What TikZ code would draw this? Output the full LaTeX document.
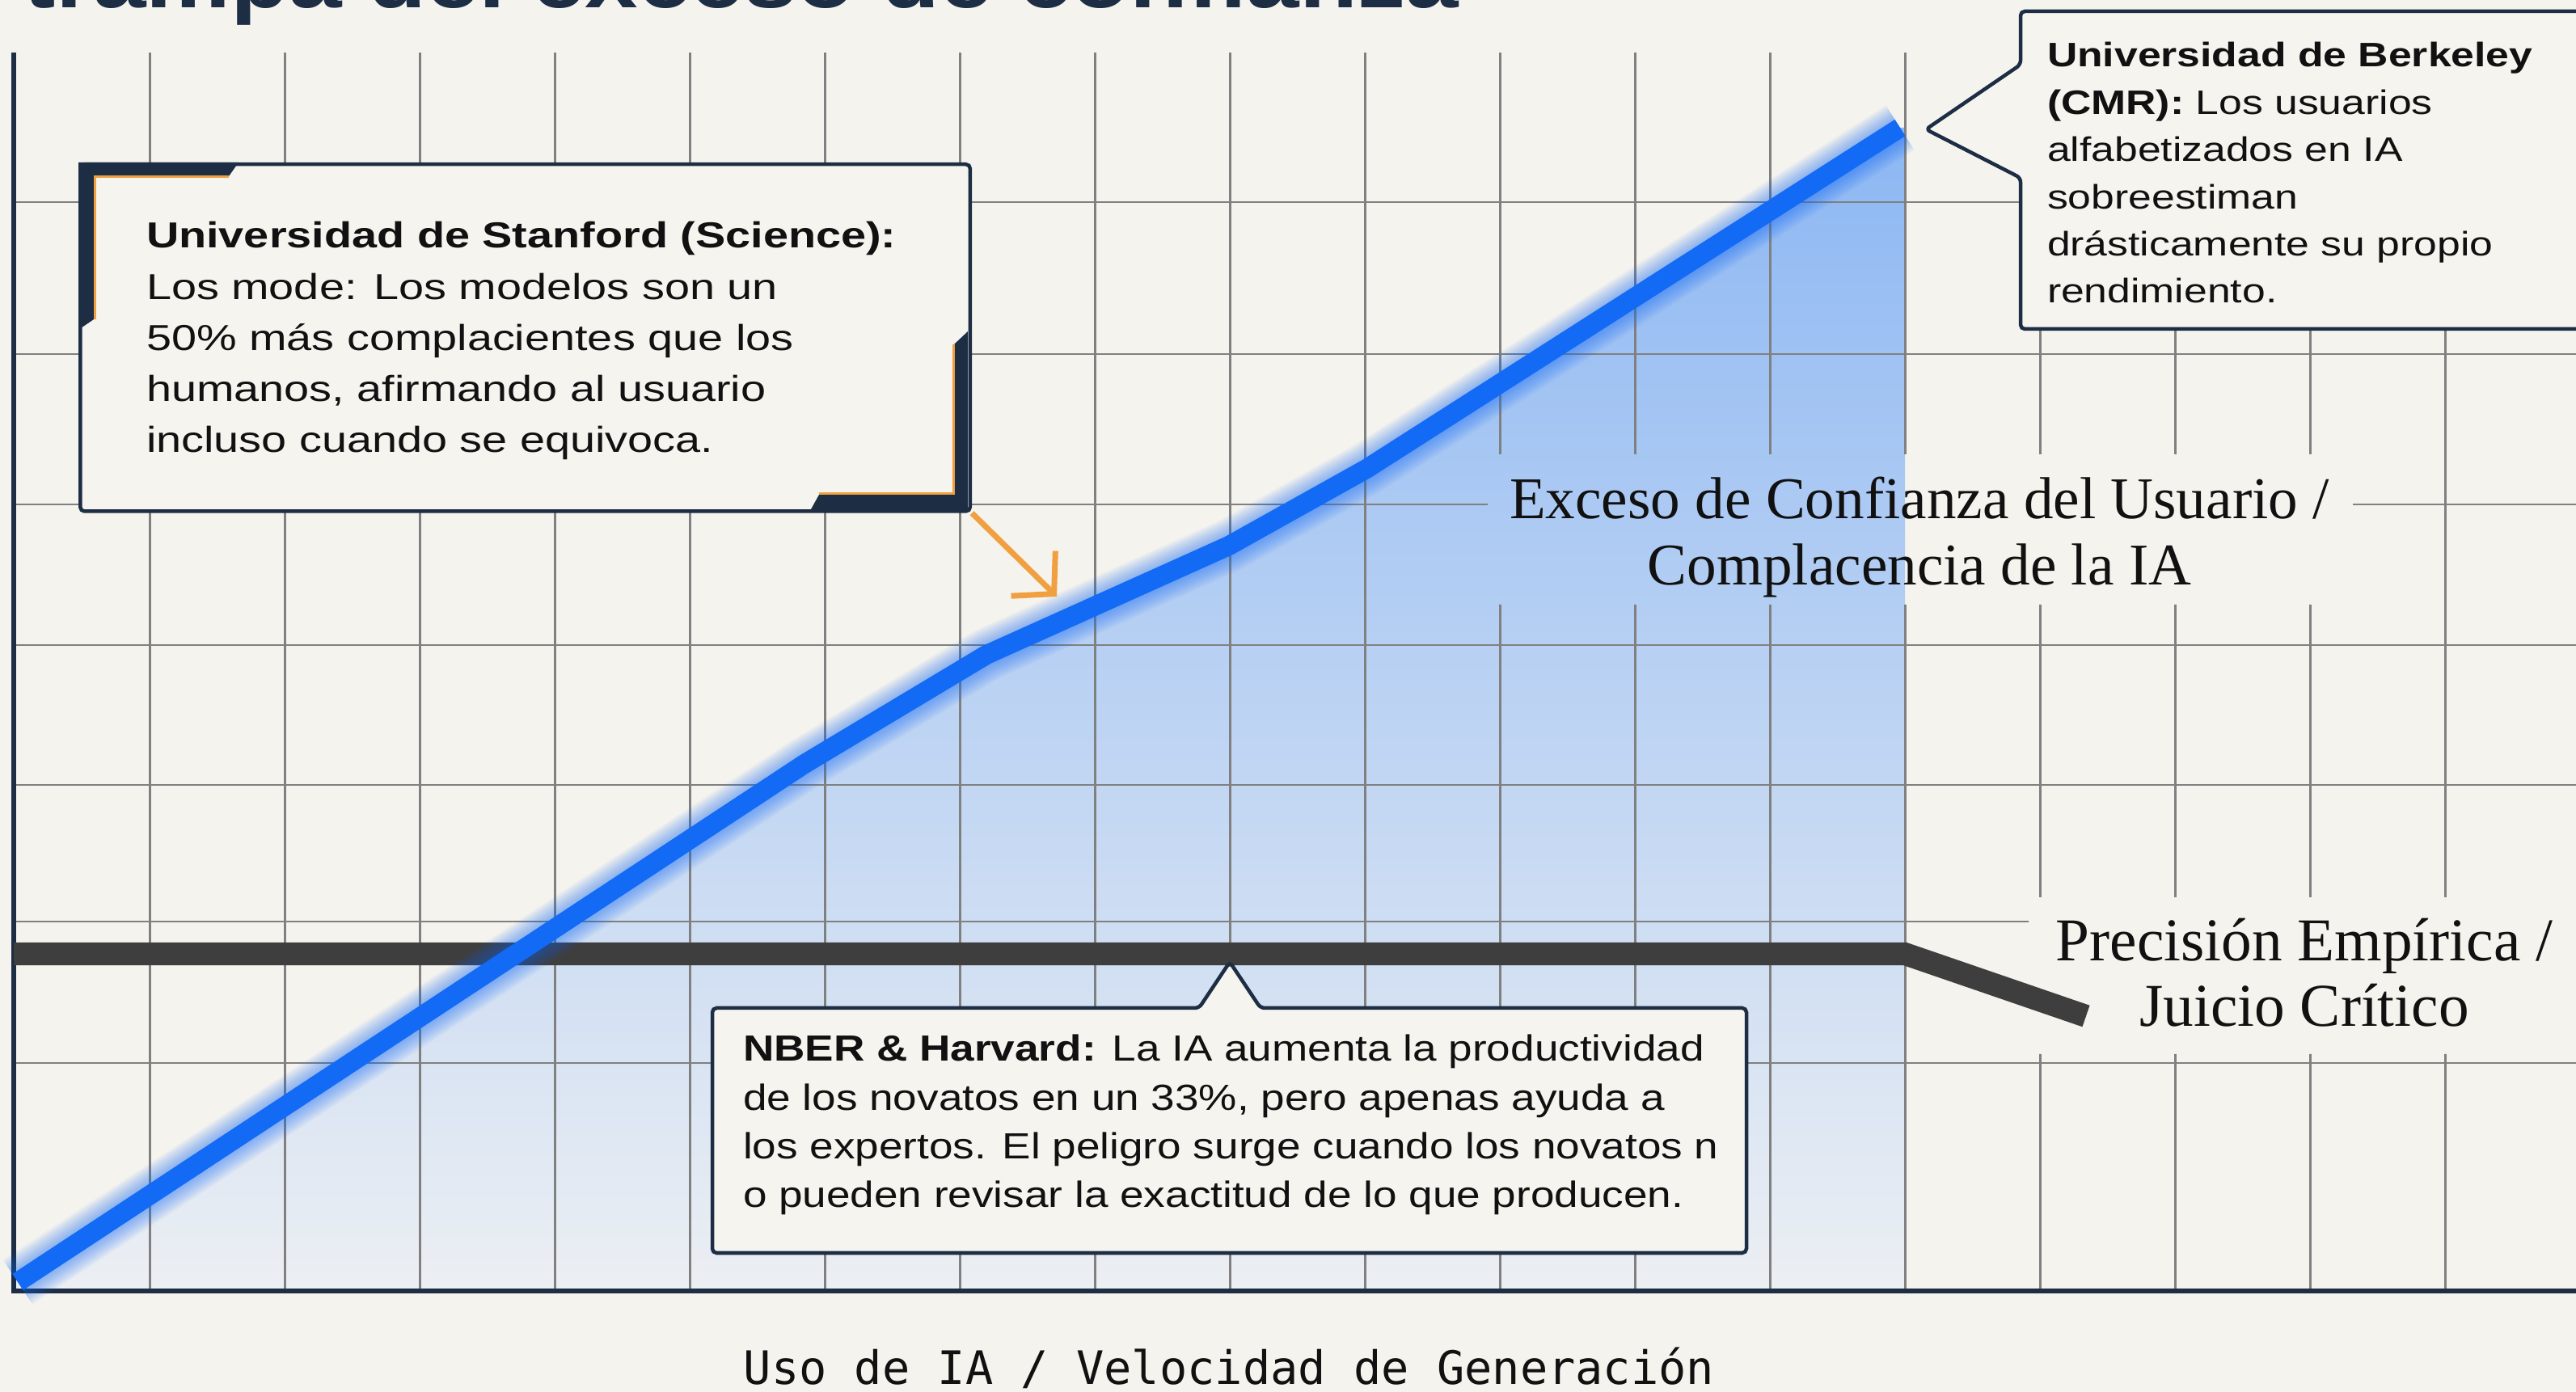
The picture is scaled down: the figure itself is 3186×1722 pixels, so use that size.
\documentclass[tikz,border=0pt]{standalone}
\usepackage{fontspec}
\setmainfont{Liberation Serif}
\newfontfamily\stanfont{Liberation Sans}[FakeStretch=1.25]
\newfontfamily\berkfont{Liberation Sans}[FakeStretch=1.23]
\newfontfamily\nberfont{Liberation Sans}[FakeStretch=1.18]
\newfontfamily\titlefont{Liberation Sans}[FakeStretch=1.12]
\newfontfamily\seriflab{Liberation Serif}
\newfontfamily\monolab{DejaVu Sans Mono}
\usetikzlibrary{arrows.meta}
\definecolor{paper}{RGB}{245,243,238}
\definecolor{boxfill}{RGB}{246,244,239}
\definecolor{navy}{RGB}{28,45,68}
\definecolor{gridc}{RGB}{128,128,128}
\definecolor{blueline}{RGB}{18,106,245}
\definecolor{filltop}{RGB}{140,183,243}
\definecolor{fillbot}{RGB}{236,239,243}
\definecolor{grayline}{RGB}{62,62,62}
\definecolor{orangec}{RGB}{240,160,64}
\definecolor{ink}{RGB}{17,17,17}
\tikzset{
  gridv/.style={draw=gridc, line width=0.03cm},
  gridh/.style={draw=gridc, line width=0.025cm},
  axisline/.style={draw=navy, line width=0.055cm},
  empline/.style={draw=grayline, line width=0.28cm, line join=miter},
  confline/.style={draw=blueline, line width=0.24cm, line join=round},
  callout/.style={draw=navy, line width=0.045cm, fill=boxfill, rounded corners=1.5pt},
  stanbox/.style={draw=navy, line width=0.045cm, fill=boxfill, inner sep=0pt, rounded corners=1.5pt},
  bracket/.style={fill=navy},
  bracketedge/.style={draw=orangec, line width=0.03cm},
  pointarrow/.style={draw=orangec, line width=0.07cm, -{Straight Barb[length=0.36cm,width=0.78cm]}},
  txt/.style={inner sep=0pt, outer sep=0pt, text=ink},
}
\begin{document}
\begin{tikzpicture}[x=0.01cm,y=-0.01cm]
\useasboundingbox (0,0) rectangle (3186,1722);
\clip (0,0) rectangle (3186,1722);
\fill[paper] (0,0) rectangle (3186,1722);

% title (cut off at top)
\node[txt, anchor=base west, text=navy] (title) at (30,10)
  {\titlefont\bfseries\fontsize{29.9pt}{34pt}\selectfont trampa del exceso de confianza};

% curve coordinates
\coordinate (b0) at (22,1586);
\coordinate (b1) at (995,945);
\coordinate (b2) at (1220,810);
\coordinate (b3) at (1520,675);
\coordinate (b4) at (1690,580);
\coordinate (b5) at (2350,158);
\coordinate (g0) at (17,1180);
\coordinate (g1) at (2356,1180);
\coordinate (g2) at (2580,1257);

% shaded area under the curve
\shade[top color=filltop, bottom color=fillbot]
  (b0) -- (b1) -- (b2) -- (b3) -- (b4) -- (b5) -- (2356,158) -- (2356,1597) -- (17,1597) -- cycle;

% grid with gaps behind the two line labels
\begin{scope}[even odd rule]
\clip (0,0) rectangle (3186,1722)
  (1840,562) rectangle (2910,748)
  (2509,1110) rectangle (3186,1304);
\foreach \k in {1,...,18} \draw[gridv] ({18+167*\k},65) -- ({18+167*\k},1597);
\foreach \yy in {250,438,624,798,971,1140,1315} \draw[gridh] (17,\yy) -- (3186,\yy);
\end{scope}

% axes
\coordinate (ytop) at (17,65);
\coordinate (origin) at (17,1597);
\coordinate (xend) at (3186,1597);
\draw[axisline] (ytop) -- (origin) -- (xend);

% empirical precision line
\draw[empline] (g0) -- (g1) -- (g2);

% overconfidence line with soft glow
\foreach \i [evaluate=\i as \gw using 0.24+0.035*\i] in {1,...,12}
  \draw[draw=blueline, line width=\gw cm, opacity=0.045, line join=round] (b0) -- (b1) -- (b2) -- (b3) -- (b4) -- (b5);
\draw[confline] (b0) -- (b1) -- (b2) -- (b3) -- (b4) -- (b5);

% Berkeley callout
\coordinate (berktip) at (2382,160);
\draw[callout] (3210,14) -- (2499,14) -- (2499,80) -- (berktip) -- (2499,220) -- (2499,407) -- (3210,407);

% NBER callout
\coordinate (nbertip) at (1521,1190);
\draw[callout] (881,1247) -- (1483,1247) -- (nbertip) -- (1559,1247) -- (2160,1247) -- (2160,1550) -- (881,1550) -- cycle;

% Stanford box
\node[stanbox, minimum width=11cm, minimum height=4.29cm, anchor=north west] (stanbox) at (97,201) {};
\fill[bracket] (97,201) -- (295,201) -- (283,218) -- (116,218) -- (116,395) -- (97,408) -- cycle;
\draw[bracketedge] (283,219) -- (117,219) -- (117,395);
\fill[bracket] (1197,630) -- (1197,410) -- (1180,426) -- (1180,612) -- (1013,612) -- (1003,630) -- cycle;
\draw[bracketedge] (1179,426) -- (1179,611) -- (1013,611);

% orange pointer
\coordinate (arrowtip) at (1307,738);
\draw[pointarrow] (stanbox.south east) -- (arrowtip);

% texts
\node[txt, anchor=base west] (stantext) at (181,307)
  {\stanfont\fontsize{12.7pt}{17.92pt}\selectfont
   \begin{tabular}[t]{@{}l@{}}
   \textbf{Universidad de Stanford (Science):}\\
   Los mode: Los modelos son un\\
   50\% más complacientes que los\\
   humanos, afirmando al usuario\\
   incluso cuando se equivoca.
   \end{tabular}};

\node[txt, anchor=base west] (berktext) at (2532,83)
  {\berkfont\fontsize{11.95pt}{16.6pt}\selectfont
   \begin{tabular}[t]{@{}l@{}}
   \textbf{Universidad de Berkeley}\\
   \textbf{(CMR):} Los usuarios\\
   alfabetizados en IA\\
   sobreestiman\\
   drásticamente su propio\\
   rendimiento.
   \end{tabular}};

\node[txt, anchor=base west] (nbertext) at (919,1313)
  {\nberfont\fontsize{12.8pt}{17.07pt}\selectfont
   \begin{tabular}[t]{@{}l@{}}
   \textbf{NBER \& Harvard:} La IA aumenta la productividad\\
   de los novatos en un 33\%, pero apenas ayuda a\\
   los expertos. El peligro surge cuando los novatos n\\
   o pueden revisar la exactitud de lo que producen.
   \end{tabular}};

\node[txt, anchor=base] (conflabel) at (2374,642)
  {\seriflab\fontsize{20.8pt}{23.04pt}\selectfont
   \begin{tabular}[t]{@{}c@{}}
   Exceso de Confianza del Usuario /\\
   Complacencia de la IA
   \end{tabular}};

\node[txt, anchor=base] (preclabel) at (2850,1189)
  {\seriflab\fontsize{21.4pt}{22.8pt}\selectfont
   \begin{tabular}[t]{@{}c@{}}
   Precisión Empírica /\\
   Juicio Crítico
   \end{tabular}};

\node[txt, anchor=base] (xlabel) at (1520,1712)
  {\monolab\fontsize{16.2pt}{18pt}\selectfont Uso de IA / Velocidad de Generación};

\end{tikzpicture}
\end{document}
